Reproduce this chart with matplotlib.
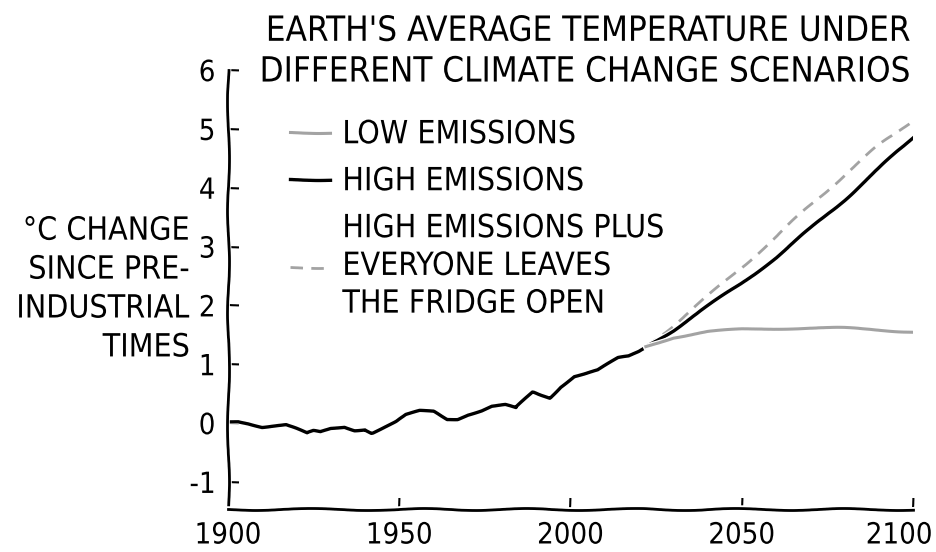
import matplotlib
matplotlib.use('Agg')
import matplotlib.pyplot as plt
from matplotlib.transforms import ScaledTranslation

hist_years = [1900, 1903, 1906, 1910, 1914, 1917, 1920, 1923, 1925, 1927, 1930,
              1934, 1937, 1940, 1942, 1946, 1949, 1952, 1956, 1960, 1964, 1967,
              1970, 1974, 1977, 1981, 1984, 1989, 1991, 1994, 1997, 2001, 2004,
              2008, 2011, 2014, 2017, 2020, 2022]
hist_temp = [0.02, 0.03, 0.0, -0.06, -0.04, -0.03, -0.1, -0.18, -0.14, -0.16, -0.1,
             -0.07, -0.12, -0.1, -0.16, -0.05, 0.03, 0.14, 0.2, 0.19, 0.06, 0.07,
             0.15, 0.22, 0.29, 0.31, 0.25, 0.52, 0.48, 0.43, 0.62, 0.8, 0.84,
             0.9, 1.0, 1.1, 1.13, 1.22, 1.3]

# scenarios branch off where the record ends
proj_years = [2022, 2030, 2040, 2050, 2060, 2070, 2080, 2090, 2100]
low_emissions = [1.3, 1.46, 1.55, 1.59, 1.61, 1.62, 1.61, 1.59, 1.55]
high_emissions = [1.3, 1.58, 1.98, 2.38, 2.82, 3.3, 3.8, 4.32, 4.86]
fridge_open = [1.3, 1.66, 2.15, 2.65, 3.17, 3.7, 4.22, 4.72, 5.15]

title = "EARTH'S AVERAGE TEMPERATURE UNDER\nDIFFERENT CLIMATE CHANGE SCENARIOS"
ylabel = "°C CHANGE\nSINCE PRE-\nINDUSTRIAL\nTIMES"
labels = ['LOW EMISSIONS', 'HIGH EMISSIONS',
          'HIGH EMISSIONS PLUS\nEVERYONE LEAVES\nTHE FRIDGE OPEN']
xticks = [1900, 1950, 2000, 2050, 2100]
yticks = [-1, 0, 1, 2, 3, 4, 5, 6]

grey = '#a3a3a3'

plt.xkcd(scale=1, length=120, randomness=2)
plt.rcParams['font.family'] = ['DejaVu Sans']
plt.rcParams['font.stretch'] = 'condensed'
plt.rcParams['axes.unicode_minus'] = False

fig = plt.figure(figsize=(9.37, 5.52), dpi=100)
ax = fig.add_axes([0.2433, 0.0779, 0.7311, 0.7951])

ax.plot(hist_years, hist_temp, color='black', lw=2.4)
l3, = ax.plot(proj_years, fridge_open, color=grey, lw=2, ls=(0, (4.5, 3)))
l2, = ax.plot(proj_years, high_emissions, color='black', lw=2.4)
l1, = ax.plot(proj_years, low_emissions, color=grey, lw=2.2)

ax.set_xlim(1900, 2100)
ax.set_ylim(-1.46, 6)
ax.set_xticks(xticks)
ax.set_yticks(yticks)
ax.tick_params(direction='in', length=8, width=1.5, labelsize=21)
ax.tick_params(axis='y', pad=9)
ax.tick_params(axis='x', pad=9)
for s in ['top', 'right']:
    ax.spines[s].set_visible(False)
ax.spines['left'].set_linewidth(2)
ax.spines['bottom'].set_linewidth(2)

# last year label sits a bit left of its tick, as in the drawing
last = ax.get_xticklabels()[-1]
last.set_transform(last.get_transform() + ScaledTranslation(-10 / 72, 0, fig.dpi_scale_trans))

ax.set_ylabel(ylabel, rotation=0, ha='right', va='center',
              multialignment='right', fontsize=23, linespacing=1.33)
ax.yaxis.set_label_coords(-0.055, 0.5)

fig.text(0.973, 0.975, title, ha='right', va='top', fontsize=25,
         linespacing=1.25)

leg = ax.legend([l1, l2, l3], labels, loc='upper left', bbox_to_anchor=(0.09, 0.888),
                frameon=False, fontsize=23, borderpad=0, borderaxespad=0,
                handlelength=1.25, handletextpad=0.4, labelspacing=0.5)
for t in leg.get_texts():
    t.set_linespacing(1.28)

fig.savefig('out.png', dpi=100)
